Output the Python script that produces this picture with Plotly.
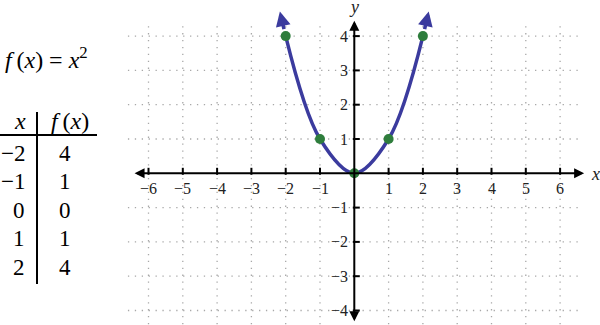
import plotly.graph_objects as go

# ---------------- data ----------------
table_x = [-2, -1, 0, 1, 2]
table_fx = [4, 1, 0, 1, 4]
x_ticks = [-6, -5, -4, -3, -2, -1, 1, 2, 3, 4, 5, 6]
y_ticks = [-4, -3, -2, -1, 1, 2, 3, 4]
x_tick_labels = [str(v).replace("-", "\u2212") for v in x_ticks]
y_tick_labels = [str(v).replace("-", "\u2212") for v in y_ticks]
grid_x = [-6, -5, -4, -3, -2, -1, 1, 2, 3, 4, 5, 6]
grid_y = [-4, -3, -2, -1, 1, 2, 3, 4]

# ---------------- geometry ----------------
W, H = 600, 325
X0PX, Y0PX, U = 354.3, 173.3, 34.3
x_range = [-X0PX / U, (W - X0PX) / U]
y_range = [-(H - Y0PX) / U, Y0PX / U]

def px(p):  # pixel -> paper x
    return p / W

def py(p):  # pixel -> paper y
    return 1 - p / H

SERIF = "Liberation Serif"
BLUE = "#3b3b9e"
GREEN = "#2e7d3c"
GRID = "#a8a8a8"

fig = go.Figure()

# curve through the table points
fig.add_trace(go.Scatter(
    x=table_x, y=table_fx, mode="lines",
    line=dict(color=BLUE, width=3.5, shape="spline", smoothing=1.0),
    hoverinfo="skip", showlegend=False))
# points
fig.add_trace(go.Scatter(
    x=table_x, y=table_fx, mode="markers",
    marker=dict(color=GREEN, size=10, line=dict(width=0)),
    hoverinfo="skip", showlegend=False))

shapes = []
# dotted grid
for gx in grid_x:
    shapes.append(dict(type="line", xref="x", yref="y", x0=gx, x1=gx, y0=-4.6, y1=4.35,
                       line=dict(color=GRID, width=1.3, dash="1.3px,5.6px"), layer="below"))
for gy in grid_y:
    shapes.append(dict(type="line", xref="x", yref="y", x0=-6.6, x1=6.52, y0=gy, y1=gy,
                       line=dict(color=GRID, width=1.3, dash="1.3px,5.6px"), layer="below"))
# axis ticks
for tx in x_ticks:
    shapes.append(dict(type="line", xref="x", yref="y", x0=tx, x1=tx, y0=-1.5 / U, y1=5.5 / U,
                       line=dict(color="black", width=2)))
for ty in y_ticks:
    shapes.append(dict(type="line", xref="x", yref="y", x0=-1.5 / U, x1=5.5 / U, y0=ty, y1=ty,
                       line=dict(color="black", width=2)))
# table lines
shapes.append(dict(type="line", xref="paper", yref="paper", x0=px(0), x1=px(97), y0=py(135), y1=py(135),
                   line=dict(color="black", width=2)))
shapes.append(dict(type="line", xref="paper", yref="paper", x0=px(37), x1=px(37), y0=py(112), y1=py(284),
                   line=dict(color="black", width=2)))

annotations = []
# axes with arrows
annotations.append(dict(x=6.7, y=0, ax=-6.45, ay=0, xref="x", yref="y", axref="x", ayref="y",
                        text="", showarrow=True, arrowhead=2, arrowside="end+start",
                        arrowsize=1.0, arrowwidth=2, arrowcolor="black"))
annotations.append(dict(x=0, y=4.45, ax=0, ay=-4.36, xref="x", yref="y", axref="x", ayref="y",
                        text="", showarrow=True, arrowhead=2, arrowside="end+start",
                        arrowsize=1.0, arrowwidth=2, arrowcolor="black"))
# curve arrows
for s in (1, -1):
    annotations.append(dict(x=s * 2.17, y=4.72, ax=s * 2.04, ay=4.16, xref="x", yref="y",
                            axref="x", ayref="y", text="", showarrow=True, arrowhead=2,
                            arrowsize=0.85, arrowwidth=3.5, arrowcolor=BLUE))
# tick labels
for v, lab in zip(x_ticks, x_tick_labels):
    annotations.append(dict(x=v, y=-15 / U, xref="x", yref="y", text=lab, showarrow=False,
                            font=dict(family=SERIF, size=16, color="#222"), xanchor="center", yanchor="middle"))
for v, lab in zip(y_ticks, y_tick_labels):
    annotations.append(dict(x=-4 / U, y=v, xref="x", yref="y", text=lab, showarrow=False,
                            font=dict(family=SERIF, size=16, color="#222"), xanchor="right", yanchor="middle"))
# axis names
annotations.append(dict(x=px(595), y=py(174), xref="paper", yref="paper", text="<i>x</i>", showarrow=False,
                        font=dict(family=SERIF, size=18, color="#222"), xanchor="center", yanchor="middle"))
annotations.append(dict(x=px(354), y=py(7), xref="paper", yref="paper", text="<i>y</i>", showarrow=False,
                        font=dict(family=SERIF, size=18, color="#222"), xanchor="center", yanchor="middle"))
# function label
annotations.append(dict(x=px(3), y=py(58), xref="paper", yref="paper",
                        text="<i>f</i>\u2009(<i>x</i>) = <i>x</i><sup>2</sup>", showarrow=False,
                        font=dict(family=SERIF, size=24, color="black"), xanchor="left", yanchor="middle"))
# table header
annotations.append(dict(x=px(20), y=py(121), xref="paper", yref="paper", text="<i>x</i>", showarrow=False,
                        font=dict(family=SERIF, size=24, color="black"), xanchor="center", yanchor="middle"))
annotations.append(dict(x=px(70), y=py(121), xref="paper", yref="paper", text="<i>f</i>\u2009(<i>x</i>)",
                        showarrow=False, font=dict(family=SERIF, size=24, color="black"),
                        xanchor="center", yanchor="middle"))
# table rows
row_y = [153, 181.5, 210, 238.5, 267]
for i, (xv, fv) in enumerate(zip(table_x, table_fx)):
    annotations.append(dict(x=px(27), y=py(row_y[i]), xref="paper", yref="paper",
                            text=str(xv).replace("-", "\u2212"), showarrow=False,
                            font=dict(family=SERIF, size=23, color="black"), xanchor="right", yanchor="middle"))
    annotations.append(dict(x=px(65), y=py(row_y[i]), xref="paper", yref="paper",
                            text=str(fv), showarrow=False,
                            font=dict(family=SERIF, size=23, color="black"), xanchor="center", yanchor="middle"))

fig.update_layout(
    width=W, height=H, margin=dict(l=0, r=0, t=0, b=0),
    paper_bgcolor="white", plot_bgcolor="white",
    font=dict(family=SERIF),
    xaxis=dict(range=x_range, visible=False, fixedrange=True),
    yaxis=dict(range=y_range, visible=False, fixedrange=True),
    shapes=shapes, annotations=annotations, showlegend=False,
)
fig.write_html("out.html", config={"displayModeBar": False})
